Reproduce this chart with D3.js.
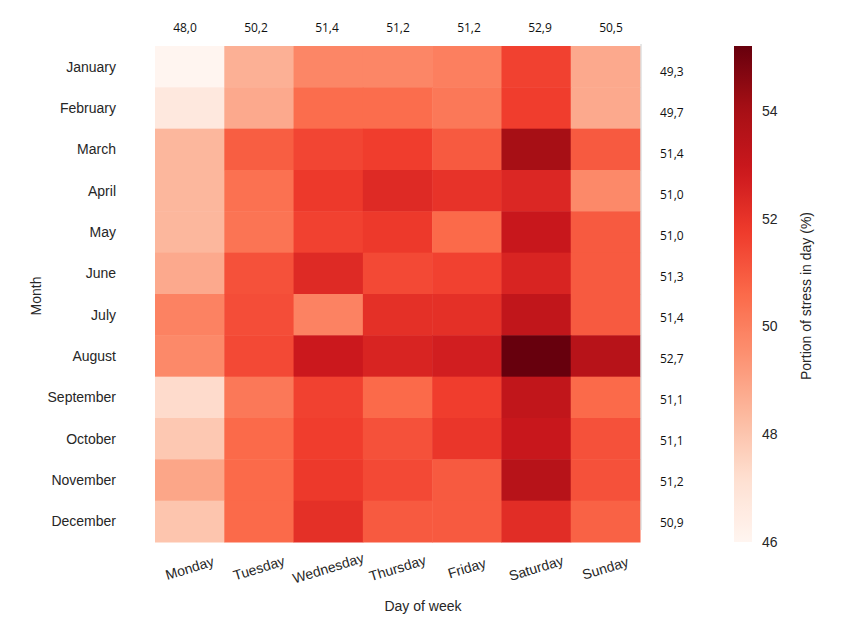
<!DOCTYPE html>
<html>
<head>
<meta charset="utf-8">
<script src="https://cdn.jsdelivr.net/npm/d3@7"></script>
<style>
  body { margin: 0; background: #fff; }
  svg { display: block; }
</style>
</head>
<body>
<svg id="chart" width="851" height="633"></svg>
<script>
const months = ["January","February","March","April","May","June","July","August","September","October","November","December"];
const days = ["Monday","Tuesday","Wednesday","Thursday","Friday","Saturday","Sunday"];

const jan = [46.0, 48.6, 49.8, 49.8, 50.0, 51.6, 48.8];
const feb = [46.7, 48.8, 50.5, 50.5, 50.2, 51.7, 48.8];
const mar = [48.4, 50.9, 51.5, 51.7, 51.0, 54.0, 51.0];
const apr = [48.4, 50.4, 51.8, 52.3, 52.0, 52.4, 49.7];
const may = [48.4, 50.3, 51.6, 51.8, 50.6, 53.0, 51.0];
const jun = [48.8, 51.2, 52.3, 51.4, 51.6, 52.5, 51.0];
const jul = [49.9, 51.3, 49.9, 52.1, 52.1, 53.2, 51.0];
const aug = [49.7, 51.4, 52.9, 52.5, 52.7, 55.2, 53.5];
const sep = [47.3, 50.2, 51.6, 50.6, 51.7, 53.2, 50.6];
const oct = [47.9, 50.6, 51.7, 51.2, 51.9, 53.0, 51.2];
const nov = [48.9, 50.6, 51.8, 51.4, 51.0, 53.5, 51.2];
const dec = [48.0, 50.6, 52.1, 51.0, 51.0, 52.2, 50.8];

const dayMeans = ["48,0","50,2","51,4","51,2","51,2","52,9","50,5"];
const monthMeans = ["49,3","49,7","51,4","51,0","51,0","51,3","51,4","52,7","51,1","51,1","51,2","50,9"];
const colorTicks = [46, 48, 50, 52, 54];
const colorDomain = [46, 55.2];

const rows = [jan, feb, mar, apr, may, jun, jul, aug, sep, oct, nov, dec];

// matplotlib-like "Reds" (linear segments over ColorBrewer stops)
const redsStops = ["#fff5f0","#fee0d2","#fcbba1","#fc9272","#fb6a4a","#ef3b2c","#cb181d","#a50f15","#67000d"];
const color = d3.scaleLinear()
  .domain(redsStops.map((_, i) => colorDomain[0] + (colorDomain[1] - colorDomain[0]) * i / (redsStops.length - 1)))
  .range(redsStops)
  .interpolate(d3.interpolateRgb)
  .clamp(true);

const svg = d3.select("#chart");
const textColor = "#262626";

const x = d3.scaleBand().domain(days).range([155, 640]);
const y = d3.scaleBand().domain(months).range([46, 542]);

const cells = [];
rows.forEach((r, i) => r.forEach((v, j) => cells.push({m: months[i], d: days[j], v})));

svg.append("g").selectAll("rect").data(cells).join("rect")
  .attr("x", d => x(d.d))
  .attr("y", d => y(d.m))
  .attr("width", x.bandwidth() + 0.5)
  .attr("height", y.bandwidth() + 0.5)
  .attr("fill", d => color(d.v));

// y axis (months)
svg.append("g").selectAll("text").data(months).join("text")
  .attr("x", 116)
  .attr("y", d => y(d) + y.bandwidth() / 2)
  .attr("text-anchor", "end")
  .attr("dominant-baseline", "central")
  .attr("font-family", "Liberation Sans, Arial, sans-serif")
  .attr("font-size", 14)
  .attr("fill", textColor)
  .text(d => d);

svg.append("text")
  .attr("transform", "translate(41,296) rotate(-90)")
  .attr("text-anchor", "middle")
  .attr("font-family", "Liberation Sans, Arial, sans-serif")
  .attr("font-size", 14)
  .attr("fill", textColor)
  .text("Month");

// x axis (days) rotated labels
svg.append("g").selectAll("text").data(days).join("text")
  .attr("transform", d => `translate(${x(d) + x.bandwidth() / 2},568) rotate(-17)`)
  .attr("text-anchor", "middle")
  .attr("dominant-baseline", "central")
  .attr("font-family", "Liberation Sans, Arial, sans-serif")
  .attr("font-size", 14)
  .attr("fill", textColor)
  .text(d => d);

svg.append("text")
  .attr("x", 423)
  .attr("y", 611)
  .attr("text-anchor", "middle")
  .attr("font-family", "Liberation Sans, Arial, sans-serif")
  .attr("font-size", 14)
  .attr("fill", textColor)
  .text("Day of week");

// top means panel
const xTop = d3.scaleBand().domain(days).range([149.5, 646.5]);
svg.append("g").selectAll("text").data(days).join("text")
  .attr("x", d => xTop(d) + xTop.bandwidth() / 2)
  .attr("y", 27)
  .attr("text-anchor", "middle")
  .attr("dominant-baseline", "central")
  .attr("font-family", "Open Sans, DejaVu Sans, sans-serif")
  .attr("font-size", 12)
  .attr("fill", "#111")
  .text((d, i) => dayMeans[i]);

// right means panel
const yRight = d3.scaleBand().domain(months).range([51.5, 542.5]);
svg.append("line")
  .attr("x1", 641).attr("x2", 641)
  .attr("y1", 44).attr("y2", 530)
  .attr("stroke", "#d0d0d0").attr("stroke-width", 1);
svg.append("g").selectAll("text").data(months).join("text")
  .attr("x", 660)
  .attr("y", d => yRight(d) + yRight.bandwidth() / 2)
  .attr("text-anchor", "start")
  .attr("dominant-baseline", "central")
  .attr("font-family", "Open Sans, DejaVu Sans, sans-serif")
  .attr("font-size", 12)
  .attr("fill", "#111")
  .text((d, i) => monthMeans[i]);

// colorbar
const cbX = 734, cbW = 18, cbTop = 46, cbBottom = 542;
const cbScale = d3.scaleLinear().domain(colorDomain).range([cbBottom, cbTop]);
const defs = svg.append("defs");
const grad = defs.append("linearGradient").attr("id", "cbgrad")
  .attr("x1", 0).attr("y1", 1).attr("x2", 0).attr("y2", 0);
d3.range(0, 1.0001, 0.02).forEach(t => {
  grad.append("stop").attr("offset", t)
    .attr("stop-color", color(colorDomain[0] + t * (colorDomain[1] - colorDomain[0])));
});
svg.append("rect")
  .attr("x", cbX).attr("y", cbTop)
  .attr("width", cbW).attr("height", cbBottom - cbTop)
  .attr("fill", "url(#cbgrad)");

svg.append("g").selectAll("text").data(colorTicks).join("text")
  .attr("x", 762)
  .attr("y", d => cbScale(d))
  .attr("text-anchor", "start")
  .attr("dominant-baseline", "central")
  .attr("font-family", "Liberation Sans, Arial, sans-serif")
  .attr("font-size", 14)
  .attr("fill", textColor)
  .text(d => d);

svg.append("text")
  .attr("transform", "translate(811,296) rotate(-90)")
  .attr("text-anchor", "middle")
  .attr("font-family", "Liberation Sans, Arial, sans-serif")
  .attr("font-size", 14)
  .attr("fill", textColor)
  .text("Portion of stress in day (%)");
</script>
</body>
</html>
